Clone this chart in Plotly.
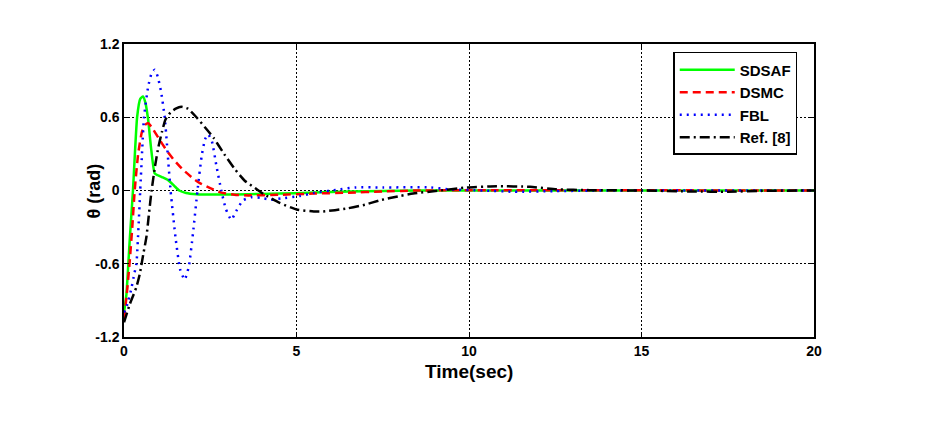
import plotly.graph_objects as go

# SDSAF
t_sdsaf = [0, 0.07, 0.165, 0.26, 0.38, 0.47, 0.55, 0.62, 0.7, 0.78, 0.89, 0.98, 1.1, 1.28, 1.45, 1.6, 1.8, 2.1, 2.6, 3.2, 4.0, 5.0, 6.0, 7.0, 8.0, 9.0, 20]
y_sdsaf = [-1.0, -0.85, -0.41, 0.0, 0.6, 0.75, 0.77, 0.72, 0.58, 0.36, 0.14, 0.125, 0.11, 0.085, 0.04, 0.0, -0.02, -0.03, -0.033, -0.032, -0.028, -0.022, -0.012, -0.006, -0.002, 0.0, 0.0]

# DSMC
t_dsmc = [0, 0.08, 0.16, 0.24, 0.31, 0.41, 0.52, 0.62, 0.7, 0.8, 1.0, 1.23, 1.45, 1.71, 2.0, 2.2, 2.5, 2.8, 3.2, 3.6, 4.5, 5.5, 6.5, 7.5, 8.5, 20]
y_dsmc = [-1.05, -0.85, -0.6, -0.3, 0.0, 0.3, 0.48, 0.54, 0.55, 0.52, 0.43, 0.33, 0.25, 0.17, 0.1, 0.06, 0.02, -0.015, -0.035, -0.04, -0.035, -0.025, -0.018, -0.008, 0.0, 0.0]

# FBL
t_fbl = [0, 0.1, 0.2, 0.3, 0.36, 0.42, 0.47, 0.53, 0.58, 0.7, 0.8, 0.89, 0.98, 1.08, 1.18, 1.35, 1.5, 1.63, 1.76, 1.88, 2.0, 2.13, 2.25, 2.35, 2.44, 2.55, 2.68, 2.82, 2.95, 3.11, 3.25, 3.45, 3.7, 3.95, 4.25, 4.55, 5.1, 5.5, 6.15, 6.7, 7.5, 8.9, 9.4, 10.4, 11.3, 12.5, 14, 20]
y_fbl = [-1.0, -0.93, -0.82, -0.68, -0.6, -0.3, 0.0, 0.35, 0.6, 0.85, 0.96, 0.99, 0.93, 0.8, 0.6, 0.0, -0.4, -0.65, -0.73, -0.62, -0.35, 0.0, 0.28, 0.42, 0.46, 0.4, 0.2, 0.0, -0.15, -0.24, -0.17, -0.08, -0.055, -0.06, -0.075, -0.065, -0.045, -0.02, 0.005, 0.025, 0.025, 0.025, 0.01, 0.0, -0.01, -0.005, 0.0, 0.0]

# Ref. [8]
t_ref = [0, 0.17, 0.36, 0.46, 0.56, 0.65, 0.72, 0.8, 0.9, 1.0, 1.1, 1.2, 1.35, 1.5, 1.66, 1.85, 2.1, 2.4, 2.6, 2.9, 3.2, 3.5, 3.8, 4.05, 4.5, 5.0, 5.5, 5.77, 6.45, 7.0, 7.42, 8.0, 8.38, 9.16, 9.93, 10.8, 11.77, 12.54, 13.5, 15, 16.5, 17.5, 18.5, 20]
y_ref = [-1.08, -0.93, -0.79, -0.68, -0.52, -0.38, -0.2, 0.0, 0.2, 0.36, 0.48, 0.58, 0.64, 0.67, 0.685, 0.67, 0.6, 0.5, 0.43, 0.3, 0.18, 0.08, 0.02, -0.03, -0.1, -0.155, -0.172, -0.172, -0.148, -0.115, -0.08, -0.045, -0.025, 0.0, 0.025, 0.035, 0.03, 0.01, 0.003, 0.0, -0.008, -0.01, -0.003, 0.0]

x_ticks = [0, 5, 10, 15, 20]
y_ticks = [-1.2, -0.6, 0, 0.6, 1.2]
y_tick_labels = ["-1.2", "-0.6", "0", "0.6", "1.2"]
series_names = ["SDSAF", "DSMC", "FBL", "Ref. [8]"]

fig = go.Figure()
fig.add_trace(go.Scatter(x=t_sdsaf, y=y_sdsaf, mode="lines", name=f"<b>{series_names[0]}</b>",
                         line=dict(color="#00ff00", width=2.5, shape="spline", smoothing=0.5)))
fig.add_trace(go.Scatter(x=t_dsmc, y=y_dsmc, mode="lines", name=f"<b>{series_names[1]}</b>",
                         line=dict(color="#ff0000", width=2.5, dash="8px,5px", shape="spline", smoothing=0.5)))
fig.add_trace(go.Scatter(x=t_fbl, y=y_fbl, mode="lines", name=f"<b>{series_names[2]}</b>",
                         line=dict(color="#0000ff", width=2.5, dash="2px,5px", shape="spline", smoothing=0.5)))
fig.add_trace(go.Scatter(x=t_ref, y=y_ref, mode="lines", name=f"<b>{series_names[3]}</b>",
                         line=dict(color="#000000", width=2.5, dash="10px,4px,2px,4px", shape="spline", smoothing=0.5)))

font_family = "Liberation Sans, Arial, sans-serif"
fig.update_layout(
    width=931, height=428,
    margin=dict(l=124, r=117, t=44, b=91),
    paper_bgcolor="white", plot_bgcolor="white",
    font=dict(family=font_family, color="black", size=14),
    showlegend=True,
    legend=dict(x=0.796, y=0.973, xanchor="left", yanchor="top",
                bgcolor="white", bordercolor="black", borderwidth=1.5,
                itemwidth=55,
                font=dict(family=font_family, size=15, color="black")),
    annotations=[
        dict(text="<b>θ (rad)</b>", xref="paper", yref="paper", x=-0.0435, y=0.5,
             xanchor="center", yanchor="middle", textangle=-90, showarrow=False,
             font=dict(size=18, family=font_family, color="black")),
        dict(text="<b>Time(sec)</b>", xref="paper", yref="paper", x=0.5, y=-0.119,
             xanchor="center", yanchor="middle", showarrow=False,
             font=dict(size=19, family=font_family, color="black")),
    ],
)
fig.update_xaxes(range=[0, 20], tickvals=x_ticks, ticktext=[f"<b>{v}</b>" for v in x_ticks],
                 showline=True, mirror="ticks", linecolor="black", linewidth=1.5,
                 ticks="inside", ticklen=5, tickcolor="black",
                 showgrid=True, gridcolor="black", griddash="2px,2px", gridwidth=1,
                 zeroline=False, tickfont=dict(size=14))
fig.update_yaxes(range=[-1.2, 1.2], tickvals=y_ticks, ticktext=[f"<b>{v}</b>" for v in y_tick_labels],
                 showline=True, mirror="ticks", linecolor="black", linewidth=1.5,
                 ticks="inside", ticklen=5, tickcolor="black",
                 showgrid=True, gridcolor="black", griddash="2px,2px", gridwidth=1,
                 zeroline=False, tickfont=dict(size=14))

fig.write_html("out.html")
